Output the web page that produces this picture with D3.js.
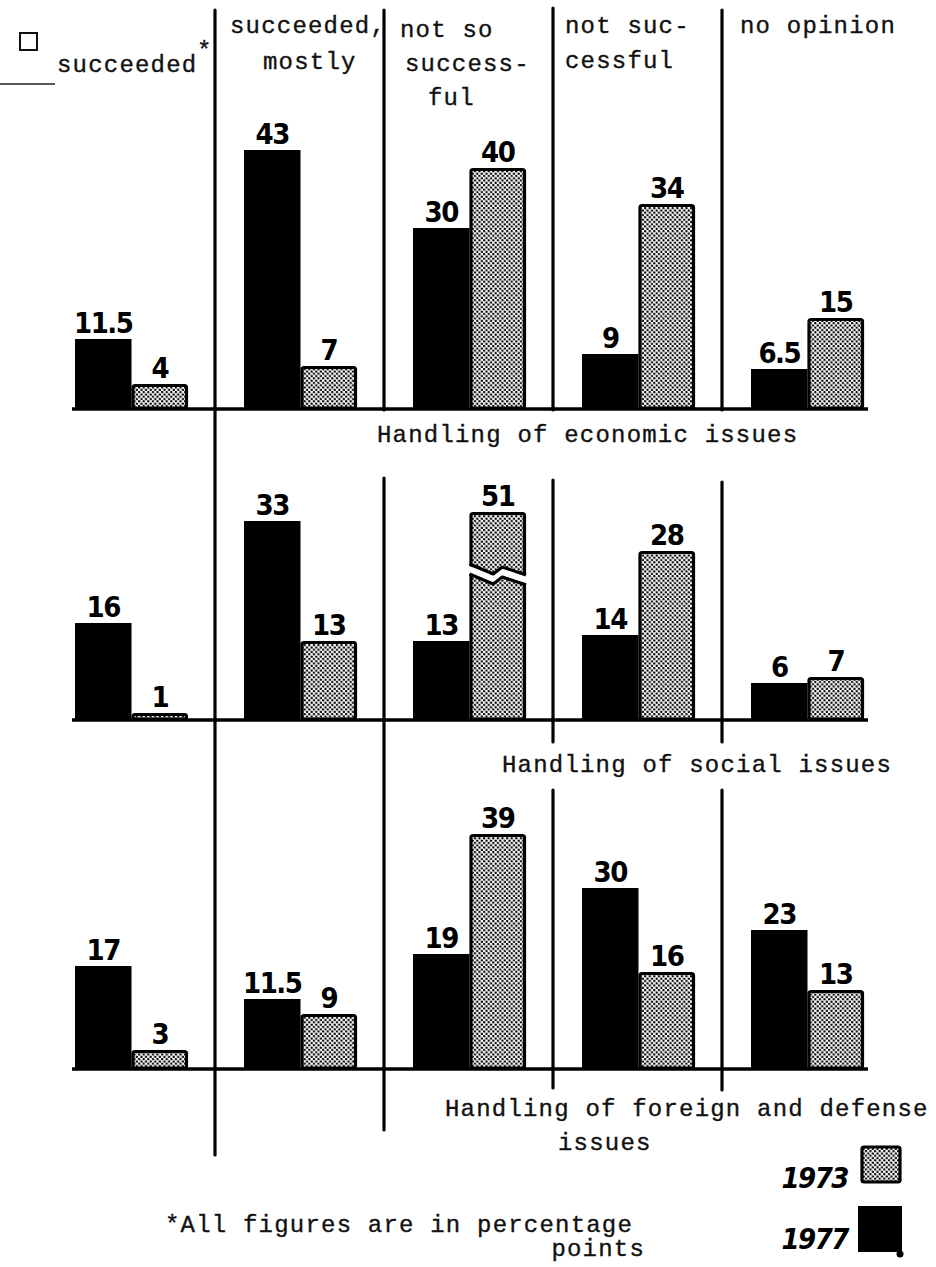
<!DOCTYPE html>
<html>
<head>
<meta charset="utf-8">
<script src="https://cdn.jsdelivr.net/npm/d3@7"></script>
<style>
  body { margin: 0; background: #fff; }
  .type { font-family: "Liberation Mono", "DejaVu Sans Mono", monospace; font-size: 24px; letter-spacing: 1.2px; fill: #111; stroke: #111; stroke-width: 0.35px; }
  .num { font-family: "DejaVu Sans Condensed", "DejaVu Sans", sans-serif; font-weight: bold; font-size: 29px; fill: #000; letter-spacing: -1.5px; }
  .year { font-family: "DejaVu Sans Condensed", "DejaVu Sans", sans-serif; font-weight: bold; font-style: italic; font-size: 29px; fill: #000; letter-spacing: -1.5px; }
</style>
</head>
<body>
<div id="chart"></div>
<script>
// answer categories and the two survey years
var categories = ["succeeded", "succeeded, mostly", "not so successful", "not successful", "no opinion"];
var years = ["1977", "1973"];

// header text, broken over lines as on the typed original
var headerLines = [["succeeded"], ["succeeded,", "mostly"], ["not so", "success-", "ful"], ["not suc-", "cessful"], ["no opinion"]];

// values, percentage points
var economic1977 = [11.5, 43, 30, 9, 6.5];
var economic1973 = [4, 7, 40, 34, 15];
var social1977 = [16, 33, 13, 14, 6];
var social1973 = [1, 13, 51, 28, 7];
var foreign1977 = [17, 11.5, 19, 30, 23];
var foreign1973 = [3, 9, 39, 16, 13];

var panelTitles = [["Handling of economic issues"], ["Handling of social issues"], ["Handling of foreign and defense", "issues"]];

var svgWidth = 936;
var svgHeight = 1267;

var svg = d3.select("#chart")
  .append("svg")
  .attr("width", svgWidth)
  .attr("height", svgHeight);

// dotted screen used for 1973
var defs = svg.append("defs");
var pat = defs.append("pattern")
  .attr("id", "dots")
  .attr("width", 4.6)
  .attr("height", 4.6)
  .attr("patternUnits", "userSpaceOnUse");
pat.append("rect").attr("width", 4.6).attr("height", 4.6).attr("fill", "#fff");
pat.append("circle").attr("cx", 1.15).attr("cy", 1.15).attr("r", 1.2).attr("fill", "#000");
pat.append("circle").attr("cx", 3.45).attr("cy", 3.45).attr("r", 1.2).attr("fill", "#000");

// group and bar scales
var xGroup = d3.scaleBand()
  .domain(categories)
  .range([75, 864])
  .paddingInner(56 / 169)
  .paddingOuter(0);

var xBar = d3.scaleBand()
  .domain(years)
  .range([0, xGroup.bandwidth()]);

// 6 px per percentage point
var yHeight = d3.scaleLinear().domain([0, 10]).range([0, 60]);
// the 51 bar is cut, so the social panel clamps
var yCut = d3.scaleLinear().domain([0, 34.5]).range([0, 207]).clamp(true);

var panels = [
  { a: economic1977, b: economic1973, base: 408, h: yHeight, cut: false, titleX: 377, titleY: 442 },
  { a: social1977, b: social1973, base: 719, h: yCut, cut: true, titleX: 502, titleY: 772 },
  { a: foreign1977, b: foreign1973, base: 1068, h: yHeight, cut: false, titleX: 445, titleY: 1116 }
];

var step = xGroup.step();
function dividerX(i) { return xGroup(categories[i]) + step - 29; }

// vertical rules between answer columns, [top, bottom] for each piece
var dividerPieces = [
  [[10, 1155]],
  [[10, 410], [478, 1130]],
  [[8, 410], [480, 742], [790, 1088]],
  [[10, 410], [482, 742], [790, 1090]]
];

dividerPieces.forEach(function(pieces, i) {
  pieces.forEach(function(p) {
    svg.append("line")
      .attr("x1", dividerX(i)).attr("x2", dividerX(i))
      .attr("y1", p[0]).attr("y2", p[1])
      .attr("stroke", "#000")
      .attr("stroke-width", 3.2)
      .attr("stroke-linecap", "round");
  });
});

// header
svg.append("rect")
  .attr("x", 20).attr("y", 33).attr("width", 17).attr("height", 17)
  .attr("fill", "none").attr("stroke", "#111").attr("stroke-width", 2);
svg.append("line")
  .attr("x1", 0).attr("x2", 55).attr("y1", 84).attr("y2", 84)
  .attr("stroke", "#222").attr("stroke-width", 1.5);

var headerPos = [
  [[57, 72]],
  [[230, 33], [263, 69]],
  [[400, 37], [405, 71], [428, 105]],
  [[565, 33], [565, 68]],
  [[740, 33]]
];

headerLines.forEach(function(lines, i) {
  lines.forEach(function(line, j) {
    svg.append("text")
      .attr("class", "type")
      .attr("x", headerPos[i][j][0])
      .attr("y", headerPos[i][j][1])
      .text(line);
  });
});
svg.append("text")
  .attr("class", "type")
  .attr("x", 197)
  .attr("y", 58)
  .text("*");

// panels
panels.forEach(function(panel, pi) {
  var g = svg.append("g");
  var rows = categories.map(function(c, i) {
    return [
      { cat: c, year: "1977", value: panel.a[i] },
      { cat: c, year: "1973", value: panel.b[i] }
    ];
  });
  var data = [].concat.apply([], rows);

  g.append("line")
    .attr("x1", 72).attr("x2", 868)
    .attr("y1", panel.base + 1).attr("y2", panel.base + 1)
    .attr("stroke", "#000").attr("stroke-width", 3.5);

  g.selectAll(".bar")
    .data(data)
    .enter()
    .append("rect")
    .attr("class", "bar")
    .attr("x", function(d) { return xGroup(d.cat) + xBar(d.year) + (d.year === "1973" ? 1.5 : 0); })
    .attr("y", function(d) { return panel.base - panel.h(d.value) + (d.year === "1973" ? 1.5 : 0); })
    .attr("width", function(d) { return xBar.bandwidth() - (d.year === "1973" ? 3 : 0); })
    .attr("height", function(d) { return Math.max(0, panel.h(d.value) - (d.year === "1973" ? 1.5 : 0)); })
    .attr("rx", function(d) { return d.year === "1973" ? 2 : 0; })
    .attr("fill", function(d) { return d.year === "1973" ? "url(#dots)" : "#000"; })
    .attr("stroke", function(d) { return d.year === "1973" ? "#000" : "none"; })
    .attr("stroke-width", 3.2);

  // cut mark on bars that run off the clamped scale
  if (panel.cut) {
    data.filter(function(d) { return d.value > panel.h.domain()[1]; }).forEach(function(d) {
      var x0 = xGroup(d.cat) + xBar(d.year);
      var w = xBar.bandwidth();
      var yb = panel.base - panel.h(24.5);
      var upper = [[x0, yb - 8], [x0 + w * 0.42, yb + 2], [x0 + w * 0.58, yb - 5], [x0 + w, yb + 3]];
      var lower = upper.map(function(p) { return [p[0], p[1] + 10]; });
      var line = d3.line();
      var gapTop = upper.map(function(p, k) { return [p[0] + (k === 0 ? -3 : k === 3 ? 3 : 0), p[1] + 1]; });
      var gapBot = lower.map(function(p, k) { return [p[0] + (k === 0 ? -3 : k === 3 ? 3 : 0), p[1] - 1]; });
      g.append("path")
        .attr("d", line(gapTop.concat(gapBot.slice().reverse())) + "Z")
        .attr("fill", "#fff");
      g.append("path").attr("d", line(upper)).attr("fill", "none").attr("stroke", "#000").attr("stroke-width", 3).attr("stroke-linejoin", "round");
      g.append("path").attr("d", line(lower)).attr("fill", "none").attr("stroke", "#000").attr("stroke-width", 3).attr("stroke-linejoin", "round");
    });
  }

  g.selectAll(".num")
    .data(data)
    .enter()
    .append("text")
    .attr("class", "num")
    .attr("x", function(d) { return xGroup(d.cat) + xBar(d.year) + xBar.bandwidth() / 2; })
    .attr("y", function(d) { return panel.base - panel.h(d.value) - 6; })
    .attr("text-anchor", "middle")
    .text(function(d) { return d.value; });

  panelTitles[pi].forEach(function(t, j) {
    svg.append("text")
      .attr("class", "type")
      .attr("x", j === 0 ? panel.titleX : 558)
      .attr("y", panel.titleY + j * 34)
      .text(t);
  });
});

// legend
svg.append("rect")
  .attr("x", 862).attr("y", 1147).attr("width", 38).attr("height", 35)
  .attr("rx", 2)
  .attr("fill", "url(#dots)").attr("stroke", "#000").attr("stroke-width", 3.2);
svg.append("text").attr("class", "year").attr("x", 848).attr("y", 1188).attr("text-anchor", "end").text(years[1]);
svg.append("rect")
  .attr("x", 858).attr("y", 1206).attr("width", 44).attr("height", 46)
  .attr("fill", "#000");
svg.append("circle").attr("cx", 900).attr("cy", 1254).attr("r", 3.5).attr("fill", "#000");
svg.append("text").attr("class", "year").attr("x", 848).attr("y", 1249).attr("text-anchor", "end").text(years[0]);

svg.append("text").attr("class", "type").attr("x", 165).attr("y", 1232).text("*All figures are in percentage");
svg.append("text").attr("class", "type").attr("x", 645).attr("y", 1256).attr("text-anchor", "end").text("points");
</script>
</body>
</html>
